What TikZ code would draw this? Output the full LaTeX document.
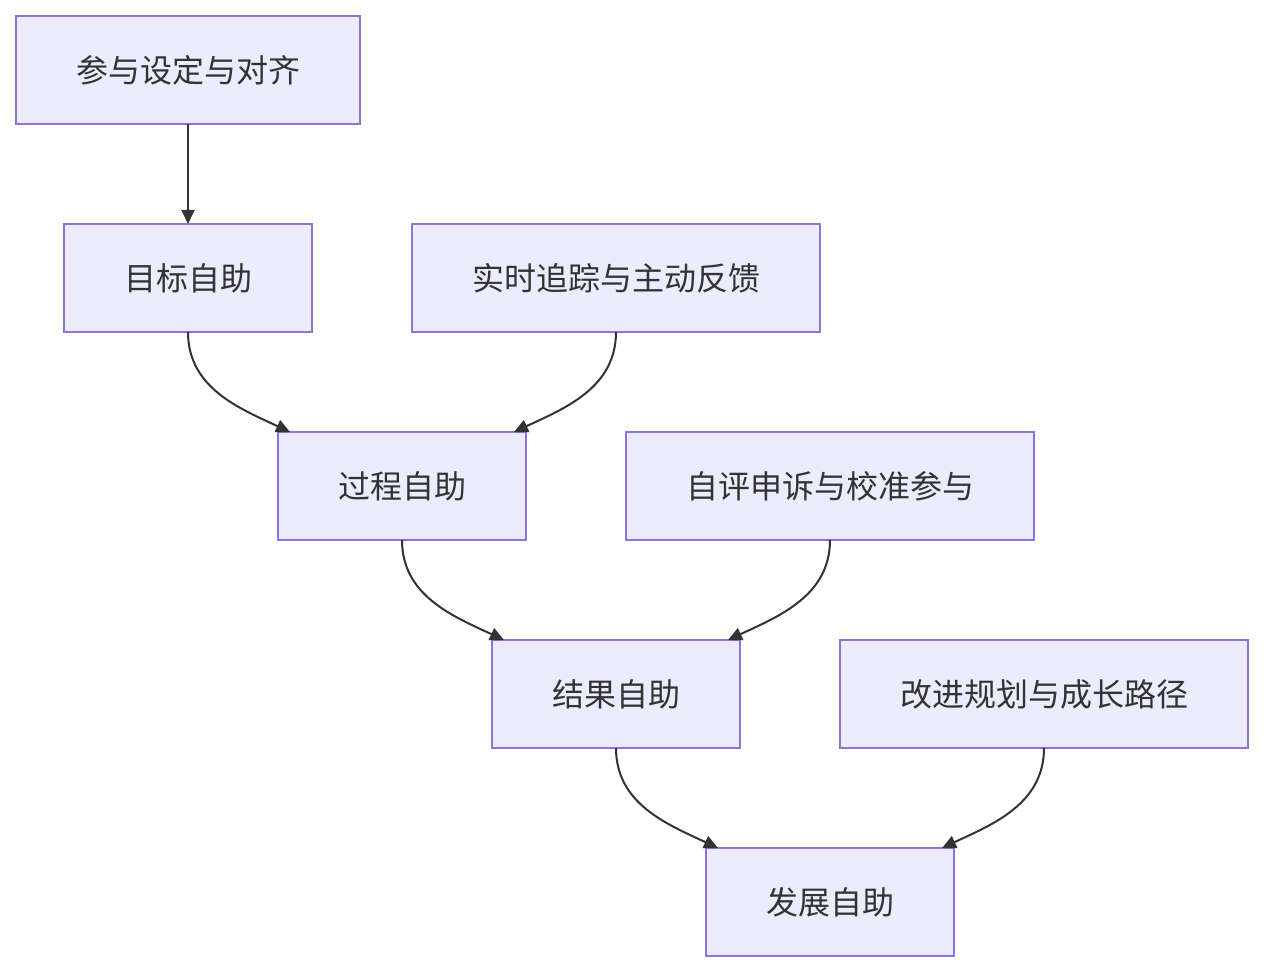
\documentclass[tikz,border=0pt]{standalone}
\usepackage{fontspec}
\setmainfont{Noto Sans CJK SC}
\usetikzlibrary{positioning,arrows.meta,calc}
\definecolor{stagefill}{HTML}{ECECFF}
\definecolor{stageline}{HTML}{9370DB}
\definecolor{edgeline}{HTML}{333333}

\begin{document}
\begin{tikzpicture}[
  font=\fontsize{16pt}{20pt}\selectfont,
  stage/.style={draw=stageline, fill=stagefill, line width=0.75pt, text=edgeline,
                minimum width=124pt, minimum height=54pt, inner sep=0pt, outer sep=0pt},
  widestage/.style={stage, minimum width=204pt},
  arr/.style={-{Triangle[length=7pt, width=6.5pt]}, line width=1pt, edgeline},
  node distance=50pt
]
\useasboundingbox (0,0) rectangle (632pt,-486pt);
% ----- left spine -----
\node[widestage, minimum width=172pt] (align) at (94pt,-35pt) {参与设定与对齐};
\node[stage, below=of align] (goal) {目标自助};
\node[widestage, right=of goal] (track) {实时追踪与主动反馈};
\draw[arr] (align) -- (goal);
% ----- process row -----
\coordinate (gt) at ($(goal.south)!0.5!(track.south)$);
\node[stage, below=of gt] (process) {过程自助};
\node[widestage, right=of process] (appeal) {自评申诉与校准参与};
\draw[arr] (goal.south) to[out=-90, in=155] ([xshift=6pt]process.north west);
\draw[arr] (track.south) to[out=-90, in=25] ([xshift=-6pt]process.north east);
% ----- result row -----
\coordinate (pa) at ($(process.south)!0.5!(appeal.south)$);
\node[stage, below=of pa] (result) {结果自助};
\node[widestage, right=of result] (plan) {改进规划与成长路径};
\draw[arr] (process.south) to[out=-90, in=155] ([xshift=6pt]result.north west);
\draw[arr] (appeal.south) to[out=-90, in=25] ([xshift=-6pt]result.north east);
% ----- development -----
\coordinate (rp) at ($(result.south)!0.5!(plan.south)$);
\node[stage, below=of rp] (grow) {发展自助};
\draw[arr] (result.south) to[out=-90, in=155] ([xshift=6pt]grow.north west);
\draw[arr] (plan.south) to[out=-90, in=25] ([xshift=-6pt]grow.north east);
\end{tikzpicture}
\end{document}
